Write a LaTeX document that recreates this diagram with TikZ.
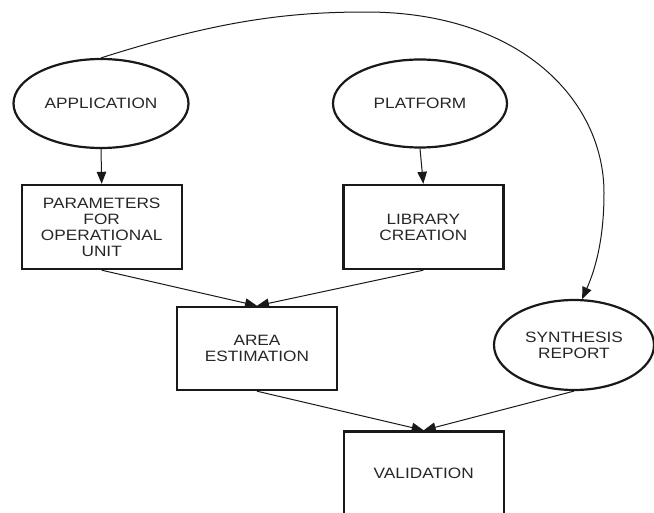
\documentclass[tikz,border=0pt]{standalone}
\usepackage{fontspec}
\setmainfont{Liberation Sans}[FakeStretch=1.15]
\usetikzlibrary{shapes.geometric,arrows.meta}
\begin{document}
\begin{tikzpicture}[x=1pt,y=-1pt,
  every node/.style={font=\fontsize{15}{16}\selectfont, text=black!85,
    align=center, inner sep=0pt},
  stepbox/.style={draw=black!90, line width=2.4pt, minimum width=160pt, minimum height=84pt},
  oval/.style={draw=black!90, ellipse, line width=2.2pt},
  link/.style={draw=black!90, line width=1pt, -{Triangle[length=12pt,width=9.5pt]}}
]
\useasboundingbox (0,0) rectangle (654,512);

% inputs
\node[oval, minimum width=175pt, minimum height=89pt] (app) at (101,103.5) {APPLICATION};
\node[oval, minimum width=174pt, minimum height=88pt] (plat) at (420,103.5) {PLATFORM};

% processing steps
\node[stepbox] (par) at (101.7,227) {PARAMETERS\\FOR\\OPERATIONAL\\UNIT};
\node[stepbox] (lib) at (423.3,227) {LIBRARY\\CREATION};
\node[stepbox, minimum height=83pt] (area) at (257,348.5) {AREA\\ESTIMATION};
\node[oval, minimum width=160pt, minimum height=90pt] (syn) at (574,345) {SYNTHESIS\\REPORT};
\node[stepbox, minimum height=83pt] (val) at (423.7,473) {VALIDATION};

% connectors
\draw[link] (app.south) -- (par.north);
\draw[link] (plat.south) -- (lib.north);
\draw[link] (par.south) -- (area.north);
\draw[link] (lib.south) -- (area.north);
\draw[link] (area.south) -- (val.north);
\draw[link] (syn.south) -- (val.north);

% long arc from the application to the synthesis report
\coordinate (peak) at (366,12);
\coordinate (side) at (604,193);
\draw[link] (app.north) .. controls (220,20) and (290,12) .. (peak)
  .. controls (520,12) and (604,100) .. (side)
  .. controls (604,240) and (595,270) .. (syn.80);
\end{tikzpicture}
\end{document}
